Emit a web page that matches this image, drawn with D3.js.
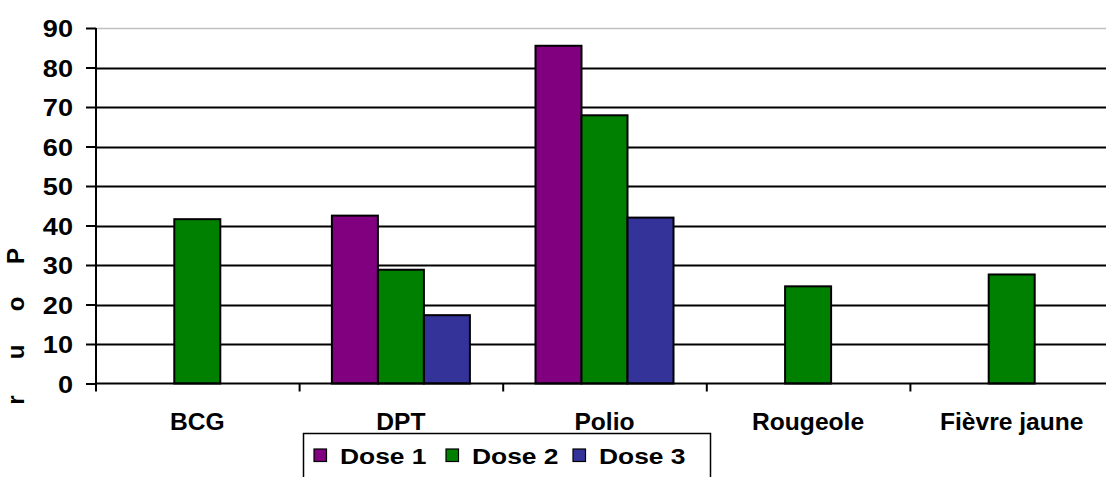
<!DOCTYPE html>
<html><head><meta charset="utf-8">
<script src="https://cdn.jsdelivr.net/npm/d3@7"></script>
<style>body{margin:0;background:#fff}svg{display:block}text{font-family:"Liberation Sans",Arial,sans-serif;font-weight:bold;fill:#000}</style>
</head><body>
<script>
const categories = ["BCG","DPT","Polio","Rougeole","Fièvre jaune"];
const seriesNames = ["Dose 1","Dose 2","Dose 3"];
const dose1 = [null, 42.5, 85.5, null, null];
const dose2 = [41.6, 28.8, 67.9, 24.6, 27.6];
const dose3 = [null, 17.3, 42.0, null, null];
const colors = ["#800080","#008000","#333399"];
const yTicks = [0,10,20,30,40,50,60,70,80,90];
const yTitle = ["P","o","u","r"];

const W=1106,H=477;
const svg=d3.select("body").append("svg").attr("width",W).attr("height",H);
const x0=d3.scaleBand().domain(categories).range([95.5,1113.5]).padding(0);
const x1=d3.scaleBand().domain(seriesNames).range([0,x0.bandwidth()]).paddingInner(0).paddingOuter(0.713);
const y=d3.scaleLinear().domain([0,90]).range([383.5,28]);
const series=[dose1,dose2,dose3];
const sx=(cx,k)=>`translate(${cx},0) scale(${k},1) translate(${-cx},0)`;

// gridlines
svg.append("g").selectAll("line").data(yTicks.filter(d=>d>0)).join("line")
 .attr("x1",96).attr("x2",W).attr("y1",d=>Math.round(y(d))+0.5).attr("y2",d=>Math.round(y(d))+0.5)
 .attr("stroke",d=>d===90?"#c0c0c0":"#000").attr("stroke-width",d=>d===90?1.5:1.8);

// bars
series.forEach((vals,si)=>{
  svg.append("g").selectAll("rect").data(categories.map((c,i)=>({c,v:vals[i]})).filter(d=>d.v!=null)).join("rect")
   .attr("x",d=>x0(d.c)+x1(seriesNames[si]))
   .attr("y",d=>y(d.v)).attr("width",x1.bandwidth()).attr("height",d=>y(0)-y(d.v))
   .attr("fill",colors[si]).attr("stroke","#000").attr("stroke-width",2);
});

// y axis
const ya=d3.axisLeft(y).tickValues(yTicks).tickSize(10).tickPadding(13);
const gy=svg.append("g").attr("transform","translate(96,0)").call(ya);
gy.select(".domain").attr("stroke","#000").attr("stroke-width",2).attr("d","M0,"+y(90)+"V"+y(0));
gy.selectAll(".tick line").attr("stroke","#000").attr("stroke-width",2);
gy.selectAll(".tick text").style("font-size","24px").attr("dy","0.36em").attr("transform",sx(-23,1.13));

// x axis
svg.append("line").attr("x1",96).attr("x2",W).attr("y1",y(0)).attr("y2",y(0)).attr("stroke","#000").attr("stroke-width",2);
svg.append("g").selectAll("line").data(categories).join("line")
 .attr("x1",d=>x0(d)+0.5).attr("x2",d=>x0(d)+0.5).attr("y1",y(0)).attr("y2",y(0)+8)
 .attr("stroke","#000").attr("stroke-width",2);
svg.append("g").selectAll("text").data(categories).join("text")
 .attr("x",d=>x0(d)+x0.bandwidth()/2).attr("y",430).attr("text-anchor","middle")
 .style("font-size","23px").attr("transform",d=>sx(x0(d)+x0.bandwidth()/2,1.07))
 .text(d=>d);

// y title letters
svg.append("g").selectAll("text").data(yTitle).join("text")
 .attr("transform",(d,i)=>`translate(24,${256+i*48}) rotate(-90)`)
 .attr("text-anchor","middle").style("font-size","24px").text(d=>d);

// legend
const lg=svg.append("g");
lg.append("rect").attr("x",303.5).attr("y",433.5).attr("width",407).attr("height",60).attr("fill","#fff").attr("stroke","#000").attr("stroke-width",1.5);
const lx=[314,446,573];
seriesNames.forEach((s,i)=>{
  lg.append("rect").attr("x",lx[i]).attr("y",449).attr("width",12.5).attr("height",12.5).attr("fill",colors[i]).attr("stroke","#000").attr("stroke-width",1.2);
  lg.append("text").attr("x",lx[i]+26).attr("y",464).style("font-size","22px").attr("transform",sx(lx[i]+26,1.2)).text(s);
});
</script>
</body></html>
